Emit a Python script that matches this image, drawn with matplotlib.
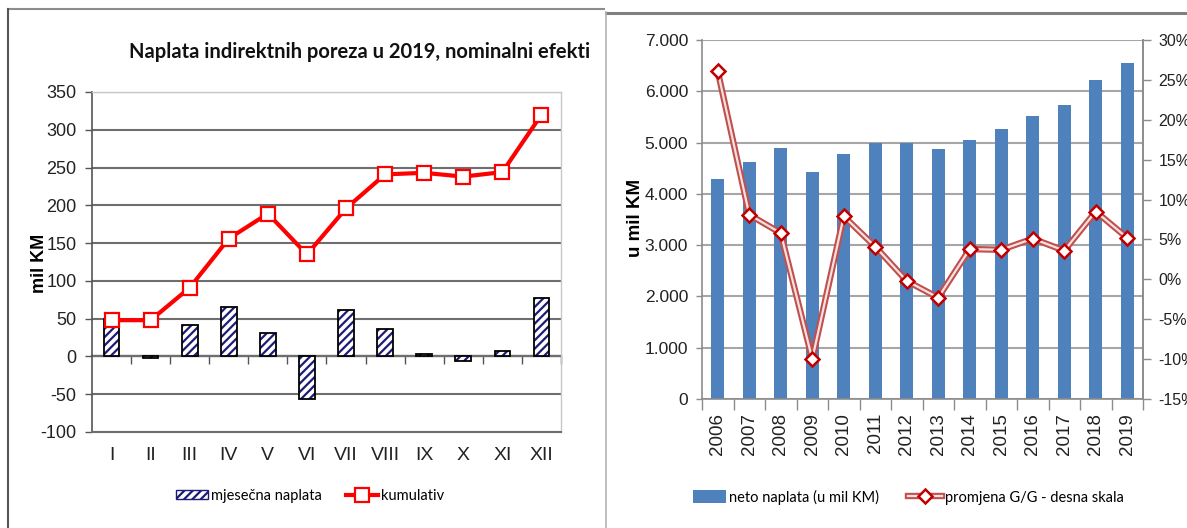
import matplotlib
matplotlib.use("Agg")
import matplotlib.pyplot as plt
import numpy as np
from matplotlib.lines import Line2D
from matplotlib.patches import Patch
from matplotlib.legend_handler import HandlerTuple

# left chart: monthly collection 2019 (mil KM)
months = ['I', 'II', 'III', 'IV', 'V', 'VI', 'VII', 'VIII', 'IX', 'X', 'XI', 'XII']
monthly = [49, -2, 41, 66, 31, -56, 61, 36, 3, -6, 7, 78]
cumulative = [48, 48, 91, 156, 189, 135, 196, 241, 243, 238, 244, 320]

# right chart: yearly net collection and y/y change
years = ['2006', '2007', '2008', '2009', '2010', '2011', '2012',
         '2013', '2014', '2015', '2016', '2017', '2018', '2019']
net_collection = [4283, 4620, 4893, 4419, 4782, 4990, 4990,
                  4867, 5049, 5257, 5517, 5725, 6218, 6556]
yoy_change = [26.1, 8.1, 5.8, -10.0, 7.9, 4.1, -0.2,
              -2.3, 3.8, 3.7, 5.1, 3.6, 8.5, 5.2]

ARIAL = ['Liberation Sans', 'DejaVu Sans']
CALIBRI = ['Lato', 'DejaVu Sans']
plt.rcParams['font.family'] = ARIAL
plt.rcParams['axes.unicode_minus'] = False
plt.rcParams['hatch.linewidth'] = 1.6

W, H = 1187, 528
fig = plt.figure(figsize=(W / 100, H / 100), dpi=100)
fig.patch.set_facecolor('white')


def px(x0, y0, x1, y1):
    # pixel box (top-left origin) -> figure fraction rect
    return [x0 / W, 1 - y1 / H, (x1 - x0) / W, (y1 - y0) / H]


# ---------------- left chart ----------------
ax1 = fig.add_axes(px(92, 92, 561, 432))
x = np.arange(len(months))
ax1.bar(x, monthly, width=0.4, color='white', edgecolor='#1C1C78',
        hatch='////', linewidth=0, zorder=2)
ax1.bar(x, monthly, width=0.4, facecolor='none', edgecolor='black',
        linewidth=1.3, zorder=3)
cum_line, = ax1.plot(x, cumulative, color='#FF0000', lw=3, marker='s', ms=10,
                     mfc='white', mec='#FF0000', mew=1.6, zorder=4)

ax1.set_xlim(-0.5, len(months) - 0.5)
ax1.set_ylim(-100, 350)
ax1.set_yticks(np.arange(-100, 351, 50))
ax1.yaxis.grid(True, color='#6E6E6E', lw=1.5)
ax1.set_axisbelow(True)
ax1.set_xticks(x)
ax1.set_xticklabels(months, fontsize=14, color='#222222')
ax1.tick_params(axis='x', length=0, pad=11)
ax1.tick_params(axis='y', length=5, width=1, color='#555555', labelsize=13,
                pad=6, labelcolor='#222222')
for s in ['top', 'right']:
    ax1.spines[s].set_color('#C8C8C8')
    ax1.spines[s].set_linewidth(1)
ax1.spines['left'].set_color('#555555')
ax1.spines['left'].set_linewidth(1.2)
ax1.spines['bottom'].set_color('#6E6E6E')
ax1.spines['bottom'].set_linewidth(1.5)

# zero line with category separators
zero_ax = ax1.secondary_xaxis(100 / 450)
zero_ax.set_xticks(np.arange(0.5, len(months), 1))
zero_ax.set_xticklabels([])
zero_ax.tick_params(length=6, width=1, color='#555555')
zero_ax.spines['bottom'].set_color('#3A3A3A')
zero_ax.spines['bottom'].set_linewidth(1.6)

fig.text(360 / W, 1 - 52 / H, 'Naplata indirektnih poreza u 2019, nominalni efekti',
         ha='center', va='center', fontsize=14.5, fontweight='bold',
         color='#111111', family=CALIBRI)
fig.text(40 / W, 1 - 263 / H, 'mil KM', rotation=90, ha='center', va='center',
         fontsize=13, fontweight='bold')

bar_handle = Patch(facecolor='white', edgecolor='#1C1C78', hatch='////', linewidth=1)
fig.legend([bar_handle, cum_line], ['mjesečna naplata', 'kumulativ'],
           loc='center', bbox_to_anchor=(310 / W, 1 - 496 / H), ncol=2,
           frameon=False, prop={'family': CALIBRI, 'size': 10.5},
           handlelength=2.2, handleheight=0.6,
           handletextpad=0.25, columnspacing=1.6)

# ---------------- right chart ----------------
ax2 = fig.add_axes(px(702, 40, 1143, 399))
xr = np.arange(len(years))
ax2.bar(xr, net_collection, width=0.42, color='#4F81BD', zorder=2)
ax2.set_xlim(-0.5, len(years) - 0.5)
ax2.set_ylim(0, 7000)
yt = np.arange(0, 7001, 1000)
ax2.set_yticks(yt)
ax2.set_yticklabels([f'{v:,}'.replace(',', '.') for v in yt])
ax2.yaxis.grid(True, color='#A6A6A6', lw=1.5)
ax2.set_axisbelow(True)
ax2.set_xticks(xr)
ax2.set_xticklabels(years, rotation=90, fontsize=13.5, color='#222222')
ax2.set_xticks(np.arange(-0.5, len(years), 1), minor=True)
ax2.tick_params(axis='x', which='major', length=0, pad=10)
ax2.tick_params(axis='x', which='minor', length=8, width=1, color='#8C8C8C')
ax2.tick_params(axis='y', length=4, width=1, color='#8C8C8C', labelsize=12.5,
                pad=6, labelcolor='#222222')
for s in ['left', 'bottom', 'right']:
    ax2.spines[s].set_color('#8C8C8C')
    ax2.spines[s].set_linewidth(1.2)
ax2.spines['top'].set_visible(False)

ax3 = ax2.twinx()
ax3.set_ylim(-15, 30)
pt = np.arange(-15, 31, 5)
ax3.set_yticks(pt)
ax3.set_yticklabels([f'{v}%' for v in pt])
ax3.tick_params(axis='y', length=6, width=1, color='#8C8C8C', labelsize=11.5,
                pad=5, labelcolor='#222222')
for s in ['left', 'bottom', 'top']:
    ax3.spines[s].set_visible(False)
ax3.spines['right'].set_color('#8C8C8C')
ax3.spines['right'].set_linewidth(1.2)

# double line (red rim, pale core) with diamond markers
outer, = ax3.plot(xr, yoy_change, color='#C0504D', lw=4.6, zorder=3)
inner, = ax3.plot(xr, yoy_change, color='#F7E1E0', lw=1.6, zorder=4)
marks, = ax3.plot(xr, yoy_change, ls='none', marker='D', ms=7, mfc='white',
                  mec='#C00000', mew=1.8, zorder=5)

fig.text(636 / W, 1 - 218 / H, 'u mil KM', rotation=90, ha='center', va='center',
         fontsize=13.5, fontweight='bold')

blue_handle = Patch(facecolor='#4F81BD', edgecolor='none')
fig.legend([blue_handle, (outer, inner, marks)],
           ['neto naplata (u mil KM)', 'promjena G/G - desna skala'],
           handler_map={tuple: HandlerTuple(ndivide=1, pad=0)},
           loc='center', bbox_to_anchor=(908 / W, 1 - 497 / H), ncol=2,
           frameon=False, prop={'family': CALIBRI, 'size': 10.5},
           handlelength=2.3, handleheight=0.9,
           handletextpad=0.2, columnspacing=2.0)

# ---------------- panel frames ----------------
def fline(xs, ys, **kw):
    fig.add_artist(Line2D([v / W for v in xs], [1 - v / H for v in ys],
                          transform=fig.transFigure, **kw))


fline([8, 604], [9, 9], color='#8C8C8C', lw=1.5)
fline([8, 8], [9, 528], color='#555555', lw=1.5)
fline([606, 1187], [12.5, 12.5], color='#808080', lw=2.2)
fline([606, 606], [12, 528], color='#B4B4B4', lw=1.2)

fig.savefig('out.png', dpi=100, facecolor='white')
